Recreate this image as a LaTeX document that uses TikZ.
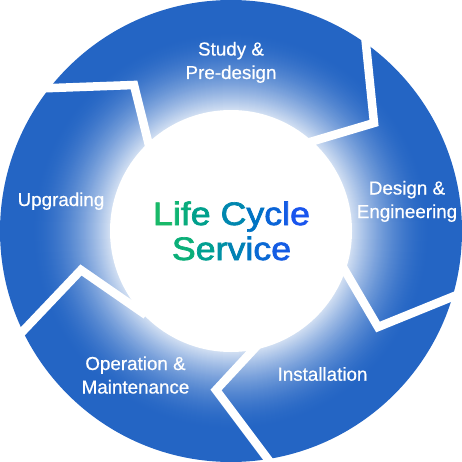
\documentclass[tikz,border=0pt]{standalone}
\usepackage{fontspec}
\usepackage{graphicx}
\setmainfont{Liberation Sans}[FakeBold=0.6]
\newfontface\titlefont{Liberation Sans}[FakeBold=2]
\definecolor{ringblue}{RGB}{36,101,196}
\newcommand{\lc}[2]{\textcolor[RGB]{#1}{#2}}
\begin{document}
\begin{tikzpicture}[x=1pt,y=-1pt,
  gap/.style={draw=white,line width=8.5pt,line join=miter,line cap=butt},
  lbl/.style={text=white,font=\fontsize{18.8}{23.5}\selectfont,align=center,anchor=base,inner sep=0pt},
  ttl/.style={font=\titlefont\fontsize{32.5}{35}\selectfont,align=center,anchor=base,inner sep=0pt}]
\useasboundingbox (0,0) rectangle (462,462);
% blue ring with a white glow towards the centre
\fill[ringblue] (231,231) circle[radius=231];
\foreach \r in {200,199,...,121}{
  \pgfmathsetmacro\pc{100-80*((200-\r)/79)^1.7}
  \fill[ringblue!\pc!white] (231,231) circle[radius=\r];
}
% white gaps between the five arrow segments
\coordinate (g1o) at (363,15);   \coordinate (g1v) at (374,123); \coordinate (g1i) at (300,145);
\coordinate (g2o) at (480,285.6);\coordinate (g2v) at (378,327); \coordinate (g2i) at (330,245);
\coordinate (g3o) at (294,494);  \coordinate (g3v) at (216,390); \coordinate (g3i) at (280,321);
\coordinate (g4o) at (12.6,342); \coordinate (g4v) at (81,270);  \coordinate (g4i) at (146,315);
\coordinate (g5o) at (20,89.2);  \coordinate (g5v) at (134,85);  \coordinate (g5i) at (151.6,155.9);
\draw[gap] (g1o) -- (g1v) -- (g1i);
\draw[gap] (g2o) -- (g2v) -- (g2i);
\draw[gap] (g3o) -- (g3v) -- (g3i);
\draw[gap] (g4o) -- (g4v) -- (g4i);
\draw[gap] (g5o) -- (g5v) -- (g5i);
% centre disc
\fill[white] (231,231) circle[radius=121];
% labels
\node[lbl] (study) at (231,79) {Study \&\\Pre-design};
\node[lbl] (design) at (407,218) {Design \&\\Engineering};
\node[lbl] (install) at (322.5,380.7) {Installation};
\node[lbl] (oper) at (135.5,393.5) {Operation \&\\Maintenance};
\node[lbl] (upgr) at (61,206) {Upgrading};
\node[ttl] (title) at (231.5,260) {\scalebox{1.1}[1]{\lc{25,185,105}{L}\lc{15,180,115}{i}\lc{10,172,125}{f}\lc{0,160,140}{e} \lc{0,135,175}{C}\lc{0,115,195}{y}\lc{10,100,215}{c}\lc{20,92,228}{l}\lc{25,85,238}{e}}\\[0pt]\scalebox{1.1}[1]{\lc{10,175,120}{S}\lc{0,160,145}{e}\lc{0,145,165}{r}\lc{0,130,180}{v}\lc{0,118,195}{i}\lc{10,105,212}{c}\lc{20,92,228}{e}}};
\end{tikzpicture}
\end{document}
